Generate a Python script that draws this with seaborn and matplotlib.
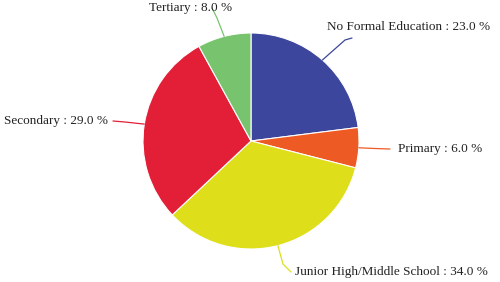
import matplotlib
matplotlib.use("Agg")
import matplotlib.pyplot as plt
import seaborn as sns
import numpy as np

categories = ["No Formal Education", "Primary", "Junior High/Middle School", "Secondary", "Tertiary"]
values = [23.0, 6.0, 34.0, 29.0, 8.0]
colors = ["#3C469C", "#EE5A24", "#DEDE1A", "#E31F38", "#78C46E"]

sns.set_theme(style="white")
plt.rcParams['font.family'] = ['Liberation Serif', 'DejaVu Serif']

W, H = 500, 282
fig = plt.figure(figsize=(5, 2.82), dpi=100)
ax = fig.add_axes([0, 0, 1, 1])
ax.set_xlim(0, W)
ax.set_ylim(0, H)
ax.axis("off")

cx, cy, r = 251, H - 141, 108
wedges, _ = ax.pie(values, colors=colors, startangle=90, counterclock=False,
                   center=(cx, cy), radius=r, frame=True,
                   wedgeprops=dict(edgecolor="white", linewidth=0.8))
ax.set_xlim(0, W)
ax.set_ylim(0, H)
ax.axis("off")

# label placement (pixel coords, y from top): line end point, text anchor, ha
label_specs = [
    ((345, 40), (352, 38), (327, 27), "left"),
    ((375, 148.5), (390, 149), (398, 149), "left"),
    ((283, 264), (291, 272), (295, 272), "left"),
    ((125, 122), (113, 121), (108, 121), "right"),
    ((217, 18), (212, 8), (232, 8), "right"),
]
for w, v, cat, col, spec in zip(wedges, values, categories, colors, label_specs):
    ang = np.deg2rad((w.theta1 + w.theta2) / 2)
    ex, ey = cx + r * np.cos(ang), cy + r * np.sin(ang)
    (mx, my), (lx, ly), (tx, ty), ha = spec
    ax.plot([ex, mx, lx], [ey, H - my, H - ly], color=col, lw=0.9,
            solid_capstyle="round")
    ax.text(tx, H - ty, f"{cat} : {v:.1f} %", ha=ha, va="center",
            fontsize=9.5, color="#222222")

fig.savefig("out.png", dpi=100, facecolor="white")
